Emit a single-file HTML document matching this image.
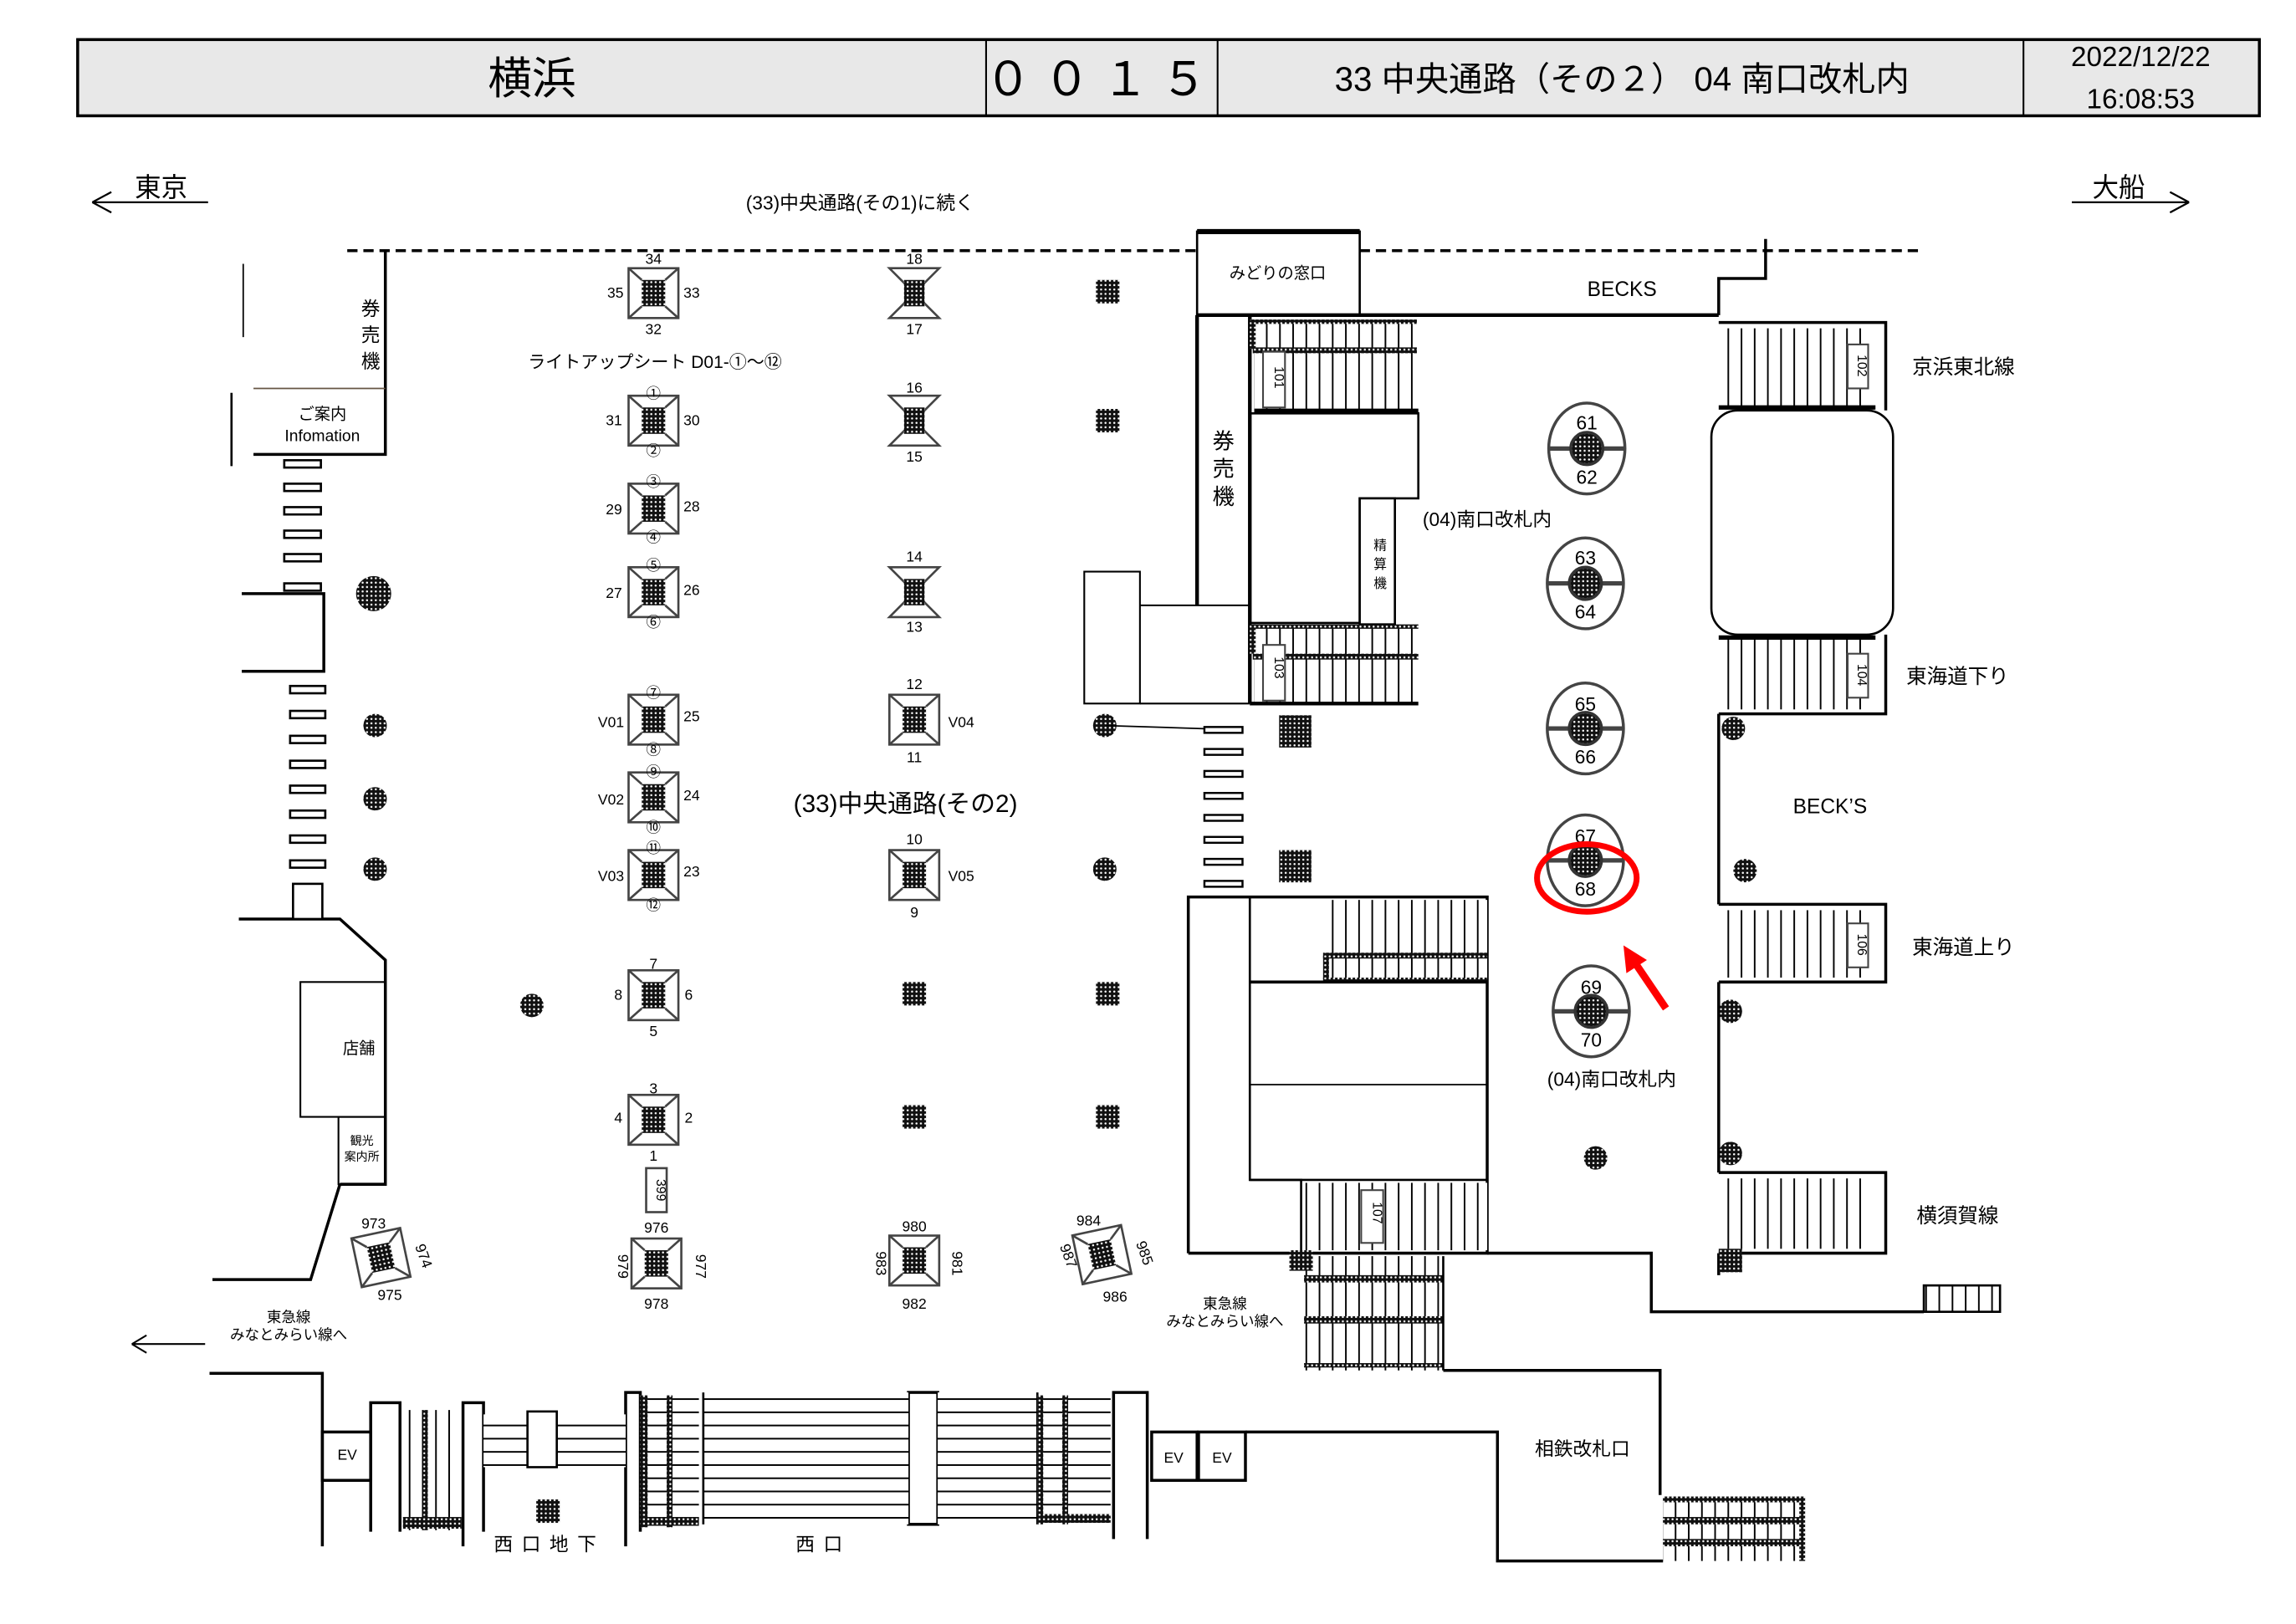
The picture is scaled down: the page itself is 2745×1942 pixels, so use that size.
<!DOCTYPE html>
<html><head><meta charset="utf-8"><style>
html,body{margin:0;padding:0;background:#fff}
svg{display:block}
text{font-family:"Liberation Sans","Noto Sans CJK JP",sans-serif;fill:#000}
</style></head><body>
<svg width="2745" height="1942" viewBox="0 0 1567 1108" preserveAspectRatio="none" xmlns="http://www.w3.org/2000/svg">
<defs>
<pattern id="dots" width="3" height="3" patternUnits="userSpaceOnUse"><rect width="3" height="3" fill="#111"/><circle cx="1.5" cy="1.5" r="0.7" fill="#fff"/></pattern>
<pattern id="sv" width="9" height="10" patternUnits="userSpaceOnUse"><rect width="9" height="10" fill="#fff"/><line x1="0.5" y1="0" x2="0.5" y2="10" stroke="#000" stroke-width="1.2"/></pattern>
<pattern id="sh" width="10" height="9" patternUnits="userSpaceOnUse"><rect width="10" height="9" fill="#fff"/><line x1="0" y1="0.5" x2="10" y2="0.5" stroke="#000" stroke-width="1.2"/></pattern>
<g id="pa"><rect x="-17" y="-17" width="34" height="34" fill="#fff" stroke="#444" stroke-width="1.5"/><path d="M-17-17L-8-9M17-17L8-9M-17 17L-8 9M17 17L8 9" stroke="#444" stroke-width="1.5"/><rect x="-8" y="-9" width="16" height="18" fill="url(#dots)"/></g>
<g id="hg"><path d="M-17-17H17L6-6H-6ZM-17 17H17L6 6H-6Z" fill="#fff" stroke="#444" stroke-width="1.5"/><rect x="-7" y="-9" width="14" height="18" fill="url(#dots)"/></g>
<rect id="sq" x="-8" y="-8" width="16" height="16" fill="url(#dots)"/>
<g id="rp"><ellipse rx="26" ry="31" fill="#fff" stroke="#444" stroke-width="2"/><line x1="-26" y1="0" x2="26" y2="0" stroke="#444" stroke-width="3"/><circle r="11" fill="url(#dots)" stroke="#333" stroke-width="2"/></g>
</defs>

<!-- header -->
<rect x="53" y="27" width="1489" height="52" fill="#e8e8e8" stroke="#000" stroke-width="2"/>
<path d="M673 27V79M831 27V79M1381 27V79" stroke="#000" stroke-width="1.2"/>
<text x="363" y="64" font-size="30" text-anchor="middle">横浜</text>
<text x="752" y="65" font-size="32" text-anchor="middle" letter-spacing="8">００１５</text>
<text x="1107" y="62" font-size="23" text-anchor="middle">33 中央通路（その２） 04 南口改札内</text>
<text x="1461" y="45" font-size="19" text-anchor="middle">2022/12/22</text>
<text x="1461" y="74" font-size="19" text-anchor="middle">16:08:53</text>

<!-- direction arrows -->
<path d="M63 138H142M63 138L76 131M63 138L76 145" stroke="#000" stroke-width="1.3" fill="none"/>
<text x="110" y="134" font-size="18" text-anchor="middle">東京</text>
<path d="M1414 138H1494M1494 138L1481 131M1494 138L1481 145" stroke="#000" stroke-width="1.3" fill="none"/>
<text x="1446" y="134" font-size="18" text-anchor="middle">大船</text>
<text x="587" y="143" font-size="13" text-anchor="middle">(33)中央通路(その1)に続く</text>

<!-- dashed line -->
<path d="M237 171H817M928 171H1310" stroke="#000" stroke-width="2" stroke-dasharray="7,4"/>

<!-- left wall area -->
<g stroke="#000" stroke-width="2" fill="none">
<path d="M263 171V310H173"/>
<path d="M166 180V230" stroke-width="1"/>
<path d="M173 265H263" stroke="#654" stroke-width="1"/>
<path d="M158 268V318" stroke-width="1.5"/>
<path d="M165 405H221V458H165"/>
<path d="M163 627H232L263 655V808H232"/>
<rect x="205" y="670" width="58" height="92" stroke-width="1.2"/>
<rect x="231" y="762" width="32" height="46" stroke-width="1.2"/>
<path d="M232 808L212 873H145"/>
</g>
<text x="253" y="215" font-size="13" text-anchor="middle">券</text>
<text x="253" y="233" font-size="13" text-anchor="middle">売</text>
<text x="253" y="251" font-size="13" text-anchor="middle">機</text>
<text x="220" y="286" font-size="11" text-anchor="middle">ご案内</text>
<text x="220" y="301" font-size="11" text-anchor="middle">Infomation</text>
<text x="245" y="719" font-size="11" text-anchor="middle">店舗</text>
<text x="247" y="781" font-size="8" text-anchor="middle">観光</text>
<text x="247" y="792" font-size="8" text-anchor="middle">案内所</text>
<g fill="#fff" stroke="#000" stroke-width="1.5">
<rect x="194" y="314" width="25" height="5"/><rect x="194" y="330" width="25" height="5"/><rect x="194" y="346" width="25" height="5"/><rect x="194" y="362" width="25" height="5"/><rect x="194" y="378" width="25" height="5"/><rect x="194" y="398" width="25" height="5"/>
<rect x="198" y="468" width="24" height="5"/><rect x="198" y="485" width="24" height="5"/><rect x="198" y="502" width="24" height="5"/><rect x="198" y="519" width="24" height="5"/><rect x="198" y="536" width="24" height="5"/><rect x="198" y="553" width="24" height="5"/><rect x="198" y="570" width="24" height="5"/><rect x="198" y="587" width="24" height="5"/><rect x="200" y="603" width="20" height="24"/>
</g>

<!-- round dark pillars -->
<g fill="url(#dots)">
<circle cx="255" cy="405" r="12"/><circle cx="256" cy="495" r="8"/><circle cx="256" cy="545" r="8"/><circle cx="256" cy="593" r="8"/><circle cx="363" cy="686" r="8"/><circle cx="754" cy="495" r="8"/><circle cx="754" cy="593" r="8"/><circle cx="1089" cy="790" r="8"/><circle cx="1183" cy="497" r="8"/><circle cx="1191" cy="594" r="8"/><circle cx="1181" cy="690" r="8"/><circle cx="1181" cy="787" r="8"/>
</g>
<line x1="754" y1="495" x2="848" y2="498" stroke="#000" stroke-width="1"/>

<!-- column x=446 -->
<g font-size="10" text-anchor="middle">
<use href="#pa" x="446" y="200"/><text x="446" y="180">34</text><text x="446" y="228">32</text><text x="420" y="203">35</text><text x="472" y="203">33</text>
<text x="447" y="251" font-size="12">ライトアップシート D01-①～⑫</text>
<use href="#pa" x="446" y="287"/><text x="446" y="272">①</text><text x="446" y="311">②</text><text x="419" y="290">31</text><text x="472" y="290">30</text>
<use href="#pa" x="446" y="347"/><text x="446" y="332">③</text><text x="446" y="370">④</text><text x="419" y="351">29</text><text x="472" y="349">28</text>
<use href="#pa" x="446" y="404"/><text x="446" y="389">⑤</text><text x="446" y="428">⑥</text><text x="419" y="408">27</text><text x="472" y="406">26</text>
<use href="#pa" x="446" y="491"/><text x="446" y="476">⑦</text><text x="446" y="515">⑧</text><text x="417" y="496">V01</text><text x="472" y="492">25</text>
<use href="#pa" x="446" y="544"/><text x="446" y="530">⑨</text><text x="446" y="568">⑩</text><text x="417" y="549">V02</text><text x="472" y="546">24</text>
<use href="#pa" x="446" y="597"/><text x="446" y="582">⑪</text><text x="446" y="621">⑫</text><text x="417" y="601">V03</text><text x="472" y="598">23</text>
<use href="#pa" x="446" y="679"/><text x="446" y="661">7</text><text x="446" y="707">5</text><text x="422" y="682">8</text><text x="470" y="682">6</text>
<use href="#pa" x="446" y="764"/><text x="446" y="746">3</text><text x="446" y="792">1</text><text x="422" y="766">4</text><text x="470" y="766">2</text>
<rect x="441" y="797" width="14" height="30" fill="#fff" stroke="#444" stroke-width="1.5"/><text x="448" y="812" font-size="9" transform="rotate(90 448 812)">399</text>
<use href="#pa" x="448" y="862"/><text x="448" y="841">976</text><text x="448" y="893">978</text><text x="422" y="864" transform="rotate(90 422 864)">979</text><text x="475" y="864" transform="rotate(90 475 864)">977</text>
</g>

<!-- column x=624 -->
<g font-size="10" text-anchor="middle">
<use href="#hg" x="624" y="200"/><text x="624" y="180">18</text><text x="624" y="228">17</text>
<use href="#hg" x="624" y="287"/><text x="624" y="268">16</text><text x="624" y="315">15</text>
<use href="#hg" x="624" y="404"/><text x="624" y="383">14</text><text x="624" y="431">13</text>
<use href="#pa" x="624" y="491"/><text x="624" y="470">12</text><text x="624" y="520">11</text><text x="656" y="496">V04</text>
<text x="618" y="554" font-size="17">(33)中央通路(その2)</text>
<use href="#pa" x="624" y="597"/><text x="624" y="576">10</text><text x="624" y="626">9</text><text x="656" y="601">V05</text>
<use href="#sq" x="624" y="678"/><use href="#sq" x="624" y="762"/>
<use href="#pa" x="624" y="860"/><text x="624" y="840">980</text><text x="624" y="893">982</text><text x="598" y="862" transform="rotate(90 598 862)">983</text><text x="650" y="862" transform="rotate(90 650 862)">981</text>
<use href="#sq" x="756" y="199"/><use href="#sq" x="756" y="287"/><use href="#sq" x="756" y="678"/><use href="#sq" x="756" y="762"/>
<use href="#pa" x="260" y="858" transform="rotate(-12 260 858)"/><text x="255" y="838">973</text><text x="266" y="887">975</text><text x="286" y="858" transform="rotate(70 286 858)">974</text>
<use href="#pa" x="752" y="856" transform="rotate(-12 752 856)"/><text x="743" y="836">984</text><text x="761" y="888">986</text><text x="726" y="858" transform="rotate(70 726 858)">987</text><text x="778" y="856" transform="rotate(70 778 856)">985</text>
<use href="#sq" x="374" y="1031"/>
</g>

<!-- center block -->
<g stroke="#000" stroke-width="2" fill="none">
<rect x="817" y="158" width="111" height="57" stroke-width="1.5"/><line x1="817" y1="158" x2="928" y2="158" stroke-width="3.5"/>
<path d="M817 215V413M853 215V480M817 215H1173" stroke-width="2.5"/>
<rect x="740" y="390" width="38" height="90" stroke-width="1.2"/>
<path d="M778 413H853" stroke-width="1.2"/>
<path d="M778 480H853" stroke-width="1.2"/>
</g>
<text x="872" y="190" font-size="11" text-anchor="middle">みどりの窓口</text>
<text x="835" y="306" font-size="15" text-anchor="middle">券</text><text x="835" y="325" font-size="15" text-anchor="middle">売</text><text x="835" y="344" font-size="15" text-anchor="middle">機</text>
<rect x="856" y="220" width="112" height="18" fill="url(#sv)"/>
<rect x="856" y="240" width="112" height="40" fill="url(#sv)"/>
<rect x="855" y="218" width="112" height="3" fill="url(#dots)"/><rect x="855" y="237" width="112" height="4" fill="url(#dots)"/><rect x="853" y="218" width="4" height="20" fill="url(#dots)"/>
<line x1="856" y1="280" x2="968" y2="280" stroke="#000" stroke-width="2.5"/>
<rect x="862" y="240" width="15" height="38" fill="#fff" stroke="#444" stroke-width="1.2"/><text x="870" y="250" font-size="9" transform="rotate(90 870 250)">101</text>
<path d="M853 282H968V340H928V425H853M968 340" stroke="#000" stroke-width="1.5" fill="none"/>
<rect x="928" y="340" width="24" height="86" fill="#fff" stroke="#000" stroke-width="1.5"/>
<text x="942" y="375" font-size="9" text-anchor="middle">精</text><text x="942" y="388" font-size="9" text-anchor="middle">算</text><text x="942" y="401" font-size="9" text-anchor="middle">機</text>
<text x="1015" y="359" font-size="13" text-anchor="middle">(04)南口改札内</text>
<rect x="856" y="428" width="112" height="52" fill="url(#sv)"/>
<rect x="855" y="426" width="113" height="3" fill="url(#dots)"/><rect x="855" y="446" width="113" height="4" fill="url(#dots)"/><rect x="853" y="426" width="4" height="20" fill="url(#dots)"/>
<line x1="853" y1="480" x2="968" y2="480" stroke="#000" stroke-width="2.5"/>
<rect x="862" y="440" width="15" height="38" fill="#fff" stroke="#444" stroke-width="1.2"/><text x="870" y="448" font-size="9" transform="rotate(90 870 448)">103</text>
<g fill="#fff" stroke="#000" stroke-width="1.4">
<rect x="822" y="496" width="26" height="4"/><rect x="822" y="511" width="26" height="4"/><rect x="822" y="526" width="26" height="4"/><rect x="822" y="541" width="26" height="4"/><rect x="822" y="556" width="26" height="4"/><rect x="822" y="571" width="26" height="4"/><rect x="822" y="586" width="26" height="4"/><rect x="822" y="601" width="26" height="4"/>
</g>
<rect x="873" y="488" width="22" height="22" fill="url(#dots)"/><rect x="873" y="580" width="22" height="22" fill="url(#dots)"/>

<!-- lower center -->
<g stroke="#000" stroke-width="2" fill="none">
<path d="M811 855V612H1015V855H811"/>
<path d="M853 612V805H888V855" stroke-width="1.5"/>
<path d="M853 805H1015" stroke-width="1.5"/>
<path d="M1015 855H1127V895H1313"/>
</g>
<rect x="904" y="614" width="111" height="38" fill="url(#sv)"/>
<rect x="904" y="652" width="111" height="18" fill="url(#sv)"/>
<rect x="903" y="650" width="112" height="4" fill="url(#dots)"/><rect x="903" y="667" width="112" height="3" fill="url(#dots)"/><rect x="903" y="652" width="4" height="16" fill="url(#dots)"/>
<line x1="853" y1="670" x2="1015" y2="670" stroke="#000" stroke-width="2"/>
<line x1="853" y1="740" x2="1015" y2="740" stroke="#000" stroke-width="1"/>
<rect x="890" y="807" width="125" height="46" fill="url(#sv)"/>
<rect x="929" y="812" width="15" height="36" fill="#fff" stroke="#444" stroke-width="1.2"/><text x="937" y="820" font-size="9" transform="rotate(90 937 820)">107</text>
<rect x="890" y="857" width="95" height="78" fill="url(#sv)"/>
<rect x="880" y="853" width="16" height="14" fill="url(#dots)"/>
<rect x="890" y="870" width="95" height="5" fill="url(#dots)"/><rect x="890" y="898" width="95" height="5" fill="url(#dots)"/><rect x="890" y="930" width="95" height="3" fill="url(#dots)"/>
<line x1="985" y1="857" x2="985" y2="935" stroke="#000" stroke-width="1.5"/>
<text x="836" y="893" font-size="10" text-anchor="middle">東急線</text>
<text x="836" y="905" font-size="10" text-anchor="middle">みなとみらい線へ</text>
<rect x="1313" y="877" width="52" height="18" fill="url(#sv)" stroke="#000" stroke-width="1.5"/>

<!-- BECKS / right -->
<g stroke="#000" stroke-width="2" fill="none">
<path d="M1173 215V190H1205V163"/>
<path d="M1173 220H1287V280"/>
<path d="M1173 487V617M1173 670V800M1173 855V870"/>
<path d="M1287 433V487H1173M1173 617H1287V670H1173M1173 800H1287V855H1173"/>
</g>
<text x="1107" y="202" font-size="14" text-anchor="middle">BECKS</text>
<rect x="1177" y="224" width="100" height="54" fill="url(#sv)"/>
<line x1="1173" y1="278" x2="1280" y2="278" stroke="#000" stroke-width="3"/>
<rect x="1261" y="235" width="14" height="30" fill="#fff" stroke="#444" stroke-width="1.2"/><text x="1268" y="242" font-size="9" transform="rotate(90 1268 242)">102</text>
<rect x="1168" y="280" width="124" height="153" rx="18" fill="#fff" stroke="#000" stroke-width="1.5"/>
<rect x="1177" y="436" width="100" height="48" fill="url(#sv)"/>
<line x1="1173" y1="435" x2="1280" y2="435" stroke="#000" stroke-width="3"/>
<rect x="1261" y="446" width="14" height="30" fill="#fff" stroke="#444" stroke-width="1.2"/><text x="1268" y="453" font-size="9" transform="rotate(90 1268 453)">104</text>
<rect x="1177" y="621" width="100" height="46" fill="url(#sv)"/>
<rect x="1261" y="630" width="14" height="30" fill="#fff" stroke="#444" stroke-width="1.2"/><text x="1268" y="637" font-size="9" transform="rotate(90 1268 637)">106</text>
<rect x="1177" y="804" width="100" height="48" fill="url(#sv)"/>
<rect x="1173" y="852" width="16" height="16" fill="url(#dots)"/>
<text x="1340" y="255" font-size="14" text-anchor="middle">京浜東北線</text>
<text x="1336" y="466" font-size="14" text-anchor="middle">東海道下り</text>
<text x="1249" y="555" font-size="14" text-anchor="middle">BECK’S</text>
<text x="1340" y="651" font-size="14" text-anchor="middle">東海道上り</text>
<text x="1336" y="834" font-size="14" text-anchor="middle">横須賀線</text>

<!-- round pillars with numbers -->
<g font-size="13" text-anchor="middle">
<use href="#rp" x="1083" y="306"/><text x="1083" y="293">61</text><text x="1083" y="330">62</text>
<use href="#rp" x="1082" y="398"/><text x="1082" y="385">63</text><text x="1082" y="422">64</text>
<use href="#rp" x="1082" y="497"/><text x="1082" y="485">65</text><text x="1082" y="521">66</text>
<use href="#rp" x="1082" y="587"/><text x="1082" y="575">67</text><text x="1082" y="611">68</text>
<use href="#rp" x="1086" y="690"/><text x="1086" y="678">69</text><text x="1086" y="714">70</text>
<text x="1100" y="741">(04)南口改札内</text>
</g>
<ellipse cx="1083" cy="599" rx="34" ry="23" fill="none" stroke="#f00" stroke-width="4"/>
<path d="M1137 688L1116 657" stroke="#f00" stroke-width="5"/>
<path d="M1108 645L1124 655L1110 664Z" fill="#f00"/>

<!-- bottom-left text -->
<text x="197" y="902" font-size="10" text-anchor="middle">東急線</text>
<text x="197" y="914" font-size="10" text-anchor="middle">みなとみらい線へ</text>
<path d="M90 917H140M90 917L100 911M90 917L100 923" stroke="#000" stroke-width="1.2" fill="none"/>

<!-- bottom structure -->
<g stroke="#000" stroke-width="2" fill="none">
<path d="M143 937H220V1055"/>
<rect x="220" y="977" width="33" height="33"/>
<path d="M253 1045V957H273V1045"/>
<path d="M316 1055V957H330V1045"/>
<path d="M427 1055V950H437V1045"/>
<rect x="620" y="950" width="20" height="90"/>
<path d="M760 1050V950H783V1050"/>
<rect x="786" y="977" width="31" height="33"/>
<rect x="818" y="977" width="32" height="33"/>
<path d="M850 977H1022V1065H1135M985 935H1133V1020"/>
</g>
<rect x="275" y="962" width="40" height="82" fill="url(#sv)"/>
<rect x="289" y="962" width="3" height="82" fill="url(#dots)"/>
<rect x="275" y="1035" width="40" height="8" fill="url(#dots)"/>
<rect x="330" y="965" width="97" height="36" fill="url(#sh)"/>
<rect x="360" y="963" width="20" height="38" fill="#fff" stroke="#000" stroke-width="1.5"/>
<rect x="437" y="952" width="40" height="90" fill="url(#sh)"/>
<rect x="437" y="952" width="5" height="90" fill="url(#dots)"/><rect x="455" y="952" width="4" height="90" fill="url(#dots)"/><rect x="437" y="1035" width="40" height="6" fill="url(#dots)"/>
<rect x="480" y="950" width="140" height="90" fill="url(#sh)"/>
<rect x="640" y="950" width="68" height="90" fill="url(#sh)"/>
<path d="M480 950V1040M708 950V1040" stroke="#000" stroke-width="1.5"/>
<rect x="708" y="952" width="50" height="88" fill="url(#sh)"/>
<rect x="708" y="952" width="4" height="88" fill="url(#dots)"/><rect x="725" y="952" width="4" height="88" fill="url(#dots)"/><rect x="708" y="1033" width="50" height="6" fill="url(#dots)"/>
<text x="237" y="996" font-size="10" text-anchor="middle">EV</text>
<text x="801" y="998" font-size="10" text-anchor="middle">EV</text>
<text x="834" y="998" font-size="10" text-anchor="middle">EV</text>
<text x="1080" y="993" font-size="13" text-anchor="middle">相鉄改札口</text>
<text x="375" y="1058" font-size="13" text-anchor="middle" letter-spacing="6">西口地下</text>
<text x="562" y="1058" font-size="13" text-anchor="middle" letter-spacing="6">西口</text>
<rect x="1135" y="1022" width="96" height="43" fill="url(#sv)"/>
<rect x="1135" y="1021" width="96" height="4" fill="url(#dots)"/><rect x="1135" y="1035" width="96" height="5" fill="url(#dots)"/><rect x="1135" y="1050" width="96" height="5" fill="url(#dots)"/><rect x="1228" y="1021" width="4" height="44" fill="url(#dots)"/>
</svg>
</body></html>
